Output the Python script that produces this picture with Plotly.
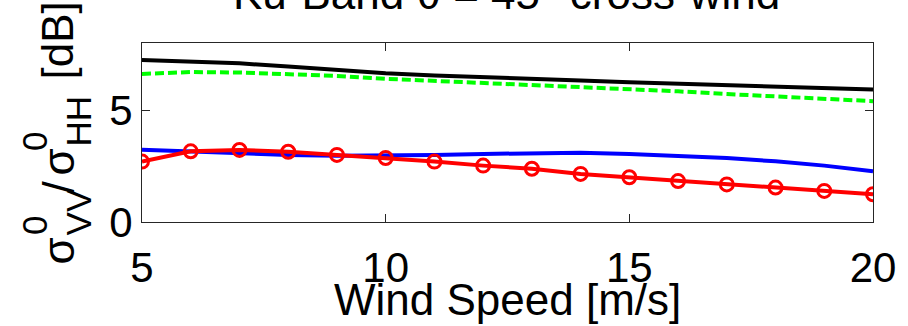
import plotly.graph_objects as go

# Wind speed samples [m/s]
wind_speed = [5, 6, 7, 8, 9, 10, 11, 12, 13, 14, 15, 16, 17, 18, 19, 20]

# VV/HH polarisation ratio [dB] for each model / data set
ratio_black = [7.24, 7.17, 7.09, 6.95, 6.80, 6.65, 6.55, 6.46, 6.40, 6.32, 6.25, 6.19, 6.13, 6.05, 5.98, 5.92]
ratio_green = [6.62, 6.70, 6.68, 6.61, 6.53, 6.40, 6.31, 6.22, 6.13, 6.02, 5.92, 5.84, 5.72, 5.62, 5.52, 5.40]
ratio_blue = [3.23, 3.14, 3.07, 3.00, 2.96, 2.96, 3.00, 3.04, 3.07, 3.10, 3.04, 2.96, 2.86, 2.71, 2.52, 2.27]
ratio_red = [2.70, 3.16, 3.22, 3.14, 3.00, 2.86, 2.70, 2.52, 2.38, 2.15, 2.00, 1.83, 1.68, 1.54, 1.39, 1.24]

x_ticks = [5, 10, 15, 20]
y_ticks = [0, 5]

title_text = "Ku-Band θ = 45° cross-wind"
x_title = "Wind Speed [m/s]"

W, H = 908, 326
L, R, T, B = 142, 27, 43, 104
FONT = "Liberation Sans, Arial, sans-serif"
MAIN = 44
SCRIPT = 35
TICK = 42
AXIS_COLOR = "#262626"

pw, ph = W - L - R, H - T - B


def px(xp):
    return (xp - L) / pw


def py(yp):
    return (H - B - yp) / ph


fig = go.Figure()
fig.add_trace(go.Scatter(x=wind_speed, y=ratio_black, mode="lines",
                         line=dict(color="#000000", width=4)))
fig.add_trace(go.Scatter(x=wind_speed, y=ratio_green, mode="lines",
                         line=dict(color="#00ff00", width=4, dash="9px,4px")))
fig.add_trace(go.Scatter(x=wind_speed, y=ratio_blue, mode="lines",
                         line=dict(color="#0000ff", width=4)))
fig.add_trace(go.Scatter(x=wind_speed, y=ratio_red, mode="lines+markers",
                         line=dict(color="#ff0000", width=4),
                         marker=dict(symbol="circle-open", size=13, color="#ff0000",
                                     line=dict(width=3, color="#ff0000"))))

annotations = []


def label(text, xc, yc, size, angle=0):
    annotations.append(dict(text=text, x=px(xc), y=py(yc), xref="paper", yref="paper",
                            xanchor="center", yanchor="middle", showarrow=False,
                            textangle=angle, font=dict(family=FONT, size=size, color="#000000")))


# title (its upper part lies above the page edge)
label(title_text, 510, 9 - 0.35 * MAIN, MAIN)
# x-axis title
label(x_title, 511, 315 - 0.35 * MAIN, MAIN)

# y-axis title: sigma^0_VV / sigma^0_HH [dB], written bottom to top with stacked scripts
base_main, base_sub, base_sup = 72, 90, 45
label("σ", base_main - 0.35 * MAIN, 251, MAIN, -90)
label("0", base_sup - 0.35 * SCRIPT, 225, SCRIPT, -90)
label("VV", base_sub - 0.35 * SCRIPT, 212, SCRIPT, -90)
label("/", base_main - 0.35 * MAIN, 187, MAIN, -90)
label("σ", base_main - 0.35 * MAIN, 162, MAIN, -90)
label("0", base_sup - 0.35 * SCRIPT, 141, SCRIPT, -90)
label("HH", base_sub - 0.35 * SCRIPT, 121, SCRIPT, -90)
label("[dB]", base_main - 0.35 * MAIN, 41, MAIN, -90)

axis_common = dict(showline=True, linecolor=AXIS_COLOR, linewidth=1, mirror="ticks",
                   ticks="inside", ticklen=8, tickwidth=1, tickcolor=AXIS_COLOR,
                   showgrid=False, zeroline=False,
                   tickfont=dict(family=FONT, size=TICK, color="#000000"))

fig.update_layout(
    width=W, height=H,
    margin=dict(l=L, r=R, t=T, b=B, pad=0),
    paper_bgcolor="#ffffff", plot_bgcolor="#ffffff",
    showlegend=False,
    annotations=annotations,
    xaxis=dict(range=[5, 20], tickvals=x_ticks, ticktext=[str(v) for v in x_ticks],
               ticklabelposition="outside", ticklabelstandoff=9, **axis_common),
    yaxis=dict(range=[0, 8], tickvals=y_ticks, ticktext=[str(v) for v in y_ticks], **axis_common),
)

fig.write_html("out.html")
